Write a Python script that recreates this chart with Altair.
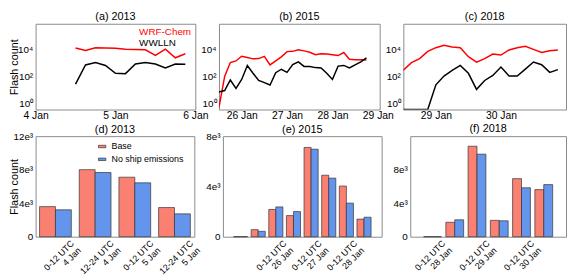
import altair as alt
import pandas as pd

FONT = "Liberation Sans"
FRAME = "#8a8a8a"

# ---------------- top row: flash counts (log scale) ----------------
series_names = ["WRF-Chem", "WWLLN"]
series_colors = ["#ff0000", "#000000"]

a_time = ["2013-01-04T12", "2013-01-04T15", "2013-01-04T18", "2013-01-04T21",
          "2013-01-05T00", "2013-01-05T03", "2013-01-05T06", "2013-01-05T09",
          "2013-01-05T12", "2013-01-05T15", "2013-01-05T18", "2013-01-05T21"]
a_wrf = [12900, 8500, 13500, 12900, 12300, 10500, 10000, 9500, 3600, 10500, 2400, 4800]
a_wwlln = [27, 710, 1070, 650, 170, 160, 830, 1070, 830, 420, 830, 790]

b_time = ["2015-01-25T12", "2015-01-25T15", "2015-01-25T18", "2015-01-25T21",
          "2015-01-26T00", "2015-01-26T03", "2015-01-26T06", "2015-01-26T09",
          "2015-01-26T12", "2015-01-26T15", "2015-01-26T18", "2015-01-26T21",
          "2015-01-27T00", "2015-01-27T03", "2015-01-27T06", "2015-01-27T09",
          "2015-01-27T12", "2015-01-27T15", "2015-01-27T18", "2015-01-27T21",
          "2015-01-28T00", "2015-01-28T03", "2015-01-28T06", "2015-01-28T09",
          "2015-01-28T12", "2015-01-28T15", "2015-01-28T18"]
b_wrf = [0.5, 100, 1070, 1400, 3100, 2500, 2000, 2100, 3100, 710, 1400, 2800, 6900,
         7200, 9500, 7800, 6200, 4100, 4800, 4500, 4100, 3500, 5900, 1860, 1740, 1740, 1660]
b_wwlln = [7, 9, 54, 13, 59, 650, 170, 51, 35, 23, 190, 340, 200, 740, 1200, 550, 550,
           450, 420, 170, 59, 580, 650, 420, 710, 1200, 2400]

c_time = ["2018-01-28T12", "2018-01-28T15", "2018-01-28T18", "2018-01-28T21",
          "2018-01-29T00", "2018-01-29T03", "2018-01-29T06", "2018-01-29T09",
          "2018-01-29T12", "2018-01-29T15", "2018-01-29T18", "2018-01-29T21",
          "2018-01-30T00", "2018-01-30T03", "2018-01-30T06", "2018-01-30T09",
          "2018-01-30T12", "2018-01-30T15", "2018-01-30T18", "2018-01-30T21"]
c_wrf = [290, 1050, 2100, 7100, 13500, 20000, 15100, 13500, 2900, 1150, 2100, 4600,
         3800, 9100, 13500, 17000, 10000, 6000, 8100, 9100]
c_wwlln = [0.35, 0.35, 0.35, 0.35, 24, 107, 275, 650, 170, 11, 50, 117, 500, 107, 107,
           350, 1170, 740, 200, 316]

LOG_DOMAIN = [0.35, 8e5]
LOG_TICKS = [1, 100, 10000]

# ---------------- bottom row: 12-hour flash totals ----------------
bar_names = ["Base", "No ship emissions"]
bar_colors = ["#fa8072", "#6495ed"]

d_base = [3590, 8000, 7100, 3480]
d_noship = [3210, 7660, 6430, 2730]
d_tick_pos = [1, 2, 3, 4]
d_tick_l1 = ["0-12 UTC", "12-24 UTC", "0-12 UTC", "12-24 UTC"]
d_tick_l2 = ["4 Jan", "4 Jan", "5 Jan", "5 Jan"]

e_base = [0, 560, 2170, 1680, 7100, 4890, 4030, 1400]
e_noship = [0, 430, 2370, 2000, 6960, 4660, 2670, 1550]
e_tick_pos = [3, 5, 7]
e_tick_l1 = ["0-12 UTC", "0-12 UTC", "0-12 UTC"]
e_tick_l2 = ["26 Jan", "27 Jan", "28 Jan"]

f_base = [0, 1720, 10800, 1950, 6930, 5620]
f_noship = [0, 2020, 9850, 1900, 5840, 6220]
f_tick_pos = [1, 3, 5]
f_tick_l1 = ["0-12 UTC", "0-12 UTC", "0-12 UTC"]
f_tick_l2 = ["28 Jan", "29 Jan", "30 Jan"]

TOP_H = 87
BOT_H = 102
BW = 0.4


def dt(y, m, d, h=0):
    return alt.DateTime(year=y, month=m, date=d, hours=h, utc=True)


def ptitle(text, dy=0):
    return alt.TitleParams(text, anchor="middle", fontSize=11, offset=2, dy=dy, font=FONT,
                           fontWeight="normal", color="#000000")


def line_panel(times, wrf, wwl, title, dom, ticks, width, ytitle=False, legend=False):
    n = len(times)
    df = pd.DataFrame({
        "t": [t + ":00:00Z" for t in times] * 2,
        "v": wrf + wwl,
        "s": [series_names[0]] * n + [series_names[1]] * n,
    })
    yargs = dict(values=LOG_TICKS,
                 labelExpr="datum.value == 1 ? '10⁰' : datum.value == 100 ? '10²' : '10⁴'",
                 labelPadding=3, labelFontSize=10, labelOverlap=False)
    if ytitle:
        yargs.update(title="Flash count", titleX=-16, titleFontSize=11)
    else:
        yargs.update(title=None)
    lines = alt.Chart(df).mark_line(strokeWidth=1.5, clip=True).encode(
        x=alt.X("t:T", scale=alt.Scale(type="utc", domain=dom, nice=False),
                axis=alt.Axis(values=ticks, labelExpr="utcFormat(datum.value, '%-d %b')",
                              title=None, labelFlush=False, labelOverlap=False,
                              labelFontSize=10.5, labelPadding=1)),
        y=alt.Y("v:Q", scale=alt.Scale(type="log", domain=LOG_DOMAIN, nice=False),
                axis=alt.Axis(**yargs)),
        color=alt.Color("s:N", scale=alt.Scale(domain=series_names, range=series_colors),
                        legend=None),
    )
    layers = [lines]
    if legend:
        for i, (nm, col) in enumerate(zip(series_names, series_colors)):
            layers.append(
                alt.Chart(pd.DataFrame({"s": [nm]})).mark_text(
                    align="left", baseline="middle", fontSize=10, font=FONT, color=col
                ).encode(text="s:N", x=alt.value(width - 57), y=alt.value(8 + 11.5 * i))
            )
    return alt.layer(*layers).properties(width=width, height=TOP_H, title=ptitle(title))


def bar_panel(base, noship, ymax, yvals, tpos, l1, l2, title, width, xdom, loff,
              tdy=0, ytitle=False, legend=False):
    n = len(base)
    g = list(range(1, n + 1))
    df = pd.DataFrame({"g": g * 2, "v": base + noship,
                       "s": [bar_names[0]] * n + [bar_names[1]] * n})
    lab = " : ".join(f"datum.value == {p} ? ['{a}', '{b}']" for p, a, b in zip(tpos, l1, l2)) + " : ''"
    yargs = dict(values=yvals,
                 labelExpr="datum.value == 0 ? '0' : format(datum.value / 1000, 'd') + 'e³'",
                 labelPadding=3, labelFontSize=10, labelOverlap=False)
    if ytitle:
        yargs.update(title="Flash count", titleX=-16, titleFontSize=11)
    else:
        yargs.update(title=None)
    if legend:
        leg = alt.Legend(title=None, orient="none", legendX=width - 98, legendY=6,
                         symbolType="M-1,-0.33H1V0.33H-1Z", symbolSize=56,
                         symbolStrokeColor="#333333", symbolStrokeWidth=0.7,
                         labelFontSize=9, labelFont=FONT, labelColor="#000000",
                         rowPadding=3, labelOffset=5, padding=0)
    else:
        leg = None
    chart = alt.Chart(df).transform_calculate(
        x0=f"datum.g + (datum.s == '{bar_names[0]}' ? -{BW} : 0)",
        x1=f"datum.g + (datum.s == '{bar_names[0]}' ? 0 : {BW})",
    ).mark_bar(stroke="#333333", strokeWidth=0.7).encode(
        x=alt.X("x0:Q", scale=alt.Scale(domain=xdom, nice=False, zero=False),
                axis=alt.Axis(values=tpos, labelExpr=lab, labelAngle=-45, labelAlign="right",
                              labelBaseline="top", labelFontSize=9, labelLineHeight=10,
                              labelPadding=2, labelOffset=loff, labelFlush=False,
                              labelOverlap=False, title=None)),
        x2="x1:Q",
        y=alt.Y("v:Q", scale=alt.Scale(domain=[0, ymax], nice=False), axis=alt.Axis(**yargs)),
        y2=alt.datum(0),
        color=alt.Color("s:N", scale=alt.Scale(domain=bar_names, range=bar_colors), legend=leg),
    )
    return chart.properties(width=width, height=BOT_H, title=ptitle(title, tdy))


pa = line_panel(a_time, a_wrf, a_wwlln, "(a) 2013", [dt(2013, 1, 4), dt(2013, 1, 6)],
                [dt(2013, 1, 4), dt(2013, 1, 5), dt(2013, 1, 6)], 162, ytitle=True, legend=True)
pb = line_panel(b_time, b_wrf, b_wwlln, "(b) 2015", [dt(2015, 1, 25, 12), dt(2015, 1, 29, 1)],
                [dt(2015, 1, 26), dt(2015, 1, 27), dt(2015, 1, 28), dt(2015, 1, 29)], 163)
pc = line_panel(c_time, c_wrf, c_wwlln, "(c) 2018", [dt(2018, 1, 28, 12), dt(2018, 1, 31)],
                [dt(2018, 1, 29), dt(2018, 1, 30)], 165)

pd_ = bar_panel(d_base, d_noship, 12000, [0, 4000, 8000, 12000], d_tick_pos, d_tick_l1,
                d_tick_l2, "(d) 2013", 161, [0.5, 4.5], 14, tdy=6, ytitle=True, legend=True)
pe = bar_panel(e_base, e_noship, 8000, [0, 4000, 8000], e_tick_pos, e_tick_l1, e_tick_l2,
               "(e) 2015", 161, [0, 9], 6, tdy=6)
pf = bar_panel(f_base, f_noship, 12000, [0, 4000, 8000], f_tick_pos, f_tick_l1, f_tick_l2,
               "(f) 2018", 158, [0, 7], 8)

top = alt.hconcat(pa, pb, pc, spacing=24, bounds="flush").resolve_scale(color="independent")
bottom = alt.hconcat(pd_, pe, pf, spacing=29, bounds="flush").resolve_scale(color="independent")

chart = alt.vconcat(top, bottom, spacing=1, padding=0).resolve_scale(
    color="independent"
).configure_view(stroke=FRAME, strokeWidth=1).configure_axis(
    labelFont=FONT, titleFont=FONT, labelColor="#000000", titleColor="#000000",
    domain=False, ticks=False, grid=False, titleFontWeight="normal"
).configure_title(font=FONT, fontWeight="normal", color="#000000")

chart.save("out.html", embed_options={"renderer": "svg", "actions": False})
